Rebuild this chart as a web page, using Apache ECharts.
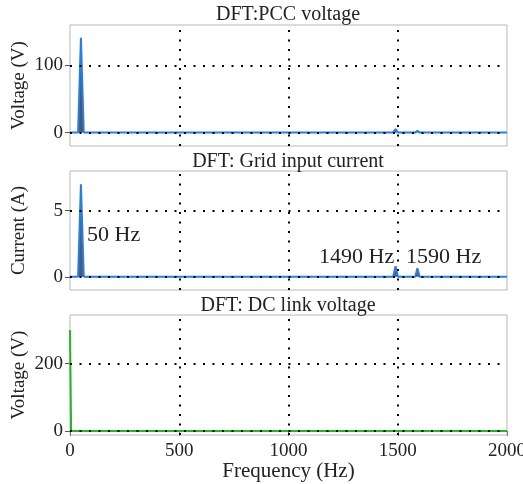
<!DOCTYPE html>
<html><head><meta charset="utf-8">
<script src="https://cdn.jsdelivr.net/npm/echarts@6/dist/echarts.min.js"></script>
<style>html,body{margin:0;padding:0;background:#fff}#c{width:523px;height:484px}</style>
</head><body><div id="c"></div>
<script>
// ---- data ----
const pccFreq = [0, 37, 50, 63, 1478, 1490, 1502, 1579, 1590, 1601, 2000];
const pccVolt = [0, 0, 141, 0, 0, 5, 0, 0, 2.5, 0, 0];
const curFreq = [0, 37, 50, 63, 1479, 1490, 1501, 1580, 1590, 1600, 2000];
const curAmp  = [0, 0, 7.0, 0, 0, 0.8, 0, 0, 0.65, 0, 0];
const dcFreq = [0, 5, 2000];
const dcVolt = [300, 0, 0];
const xTicks = [0, 500, 1000, 1500, 2000];
const xGrid = [500, 1000, 1500];
const pccTicks = [0, 100];
const curTicks = [0, 5];
const dcTicks = [0, 200];
const titles = ['DFT:PCC voltage', 'DFT: Grid input current', 'DFT: DC link voltage'];
const yNames = ['Voltage (V)', 'Current (A)', 'Voltage (V)'];
const notes = ['50 Hz', '1490 Hz', '1590 Hz'];

const FONT = 'Liberation Serif';
const zip = (a, b) => a.map((v, i) => [v, b[i]]);
const grids = [
  {left: 70, right: 16, top: 25, height: 121},
  {left: 70, right: 16, top: 171, height: 119},
  {left: 70, right: 16, top: 315, height: 120}
].map(g => Object.assign(g, {show: true, borderColor: '#b8b8b8', borderWidth: 1,
  backgroundColor: 'transparent', containLabel: false, outerBoundsMode: 'none'}));

const ranges = [[-20, 160], [-1, 8], [-12, 345]];
const tickSets = [pccTicks, curTicks, dcTicks];
const fmt = v => String(v);

const xAxes = [0, 1, 2].map(i => ({
  type: 'value', gridIndex: i, min: 0, max: 2000, interval: 500,
  axisLine: {show: false}, splitLine: {show: false},
  axisTick: {show: i === 2, length: 5, lineStyle: {color: '#777'}, customValues: xTicks},
  axisLabel: {show: i === 2, fontFamily: FONT, fontSize: 19, color: '#222', margin: 7,
    customValues: xTicks, formatter: fmt},
  name: i === 2 ? 'Frequency (Hz)' : '', nameLocation: 'middle', nameGap: 26, nameMoveOverlap: false,
  nameTextStyle: {fontFamily: FONT, fontSize: 21, color: '#222'}
}));
const yAxes = [0, 1, 2].map(i => ({
  type: 'value', gridIndex: i, min: ranges[i][0], max: ranges[i][1],
  axisLine: {show: false}, splitLine: {show: false},
  axisTick: {show: true, length: 5, lineStyle: {color: '#555'}, customValues: tickSets[i]},
  axisLabel: {fontFamily: FONT, fontSize: 19, color: '#222', margin: 7, customValues: tickSets[i], formatter: fmt},
  name: yNames[i], nameLocation: 'middle', nameGap: 41, nameRotate: 90, nameMoveOverlap: false,
  nameTextStyle: {fontFamily: FONT, fontSize: 19, color: '#222'}
}));

function gridSeries(i) {
  return {
    type: 'line', xAxisIndex: i, yAxisIndex: i, data: [], silent: true, z: 10,
    markLine: {
      silent: true, symbol: 'none', animation: false,
      label: {show: false},
      lineStyle: {color: '#000', width: 2, type: [2, 7.5], opacity: 1},
      data: xGrid.map(v => ({xAxis: v})).concat(tickSets[i].map(v => ({yAxis: v})))
    }
  };
}

const blue = '#2a7de1';
const series = [
  {type: 'line', xAxisIndex: 0, yAxisIndex: 0, data: zip(pccFreq, pccVolt), symbol: 'none',
   lineStyle: {color: blue, width: 2}, areaStyle: {color: '#4a5770', opacity: 1, origin: 0}, z: 3},
  {type: 'line', xAxisIndex: 1, yAxisIndex: 1, data: zip(curFreq, curAmp), symbol: 'none',
   lineStyle: {color: blue, width: 2}, areaStyle: {color: '#4a5a78', opacity: 1, origin: 0}, z: 3},
  {type: 'line', xAxisIndex: 2, yAxisIndex: 2, data: zip(dcFreq, dcVolt), symbol: 'none',
   lineStyle: {color: '#22b822', width: 2}, areaStyle: {color: '#22b822', opacity: 1, origin: 0}, z: 3},
  gridSeries(0), gridSeries(1), gridSeries(2)
];

const txt = (text, x, y, size, align) => ({type: 'text', x, y, silent: true,
  style: {text, fontFamily: FONT, fontSize: size, fill: '#222', align: align || 'center', verticalAlign: 'middle'}});

const chart = echarts.init(document.getElementById('c'), null, {renderer: 'canvas'});
chart.setOption({
  animation: false,
  grid: grids, xAxis: xAxes, yAxis: yAxes, series,
  graphic: [
    txt(titles[0], 288, 15, 20), txt(titles[1], 288, 162, 20), txt(titles[2], 288, 306, 20),
    txt(notes[0], 87, 235, 22, 'left'), txt(notes[1], 319, 257, 22, 'left'), txt(notes[2], 406, 257, 22, 'left')
  ]
});
</script></body></html>
